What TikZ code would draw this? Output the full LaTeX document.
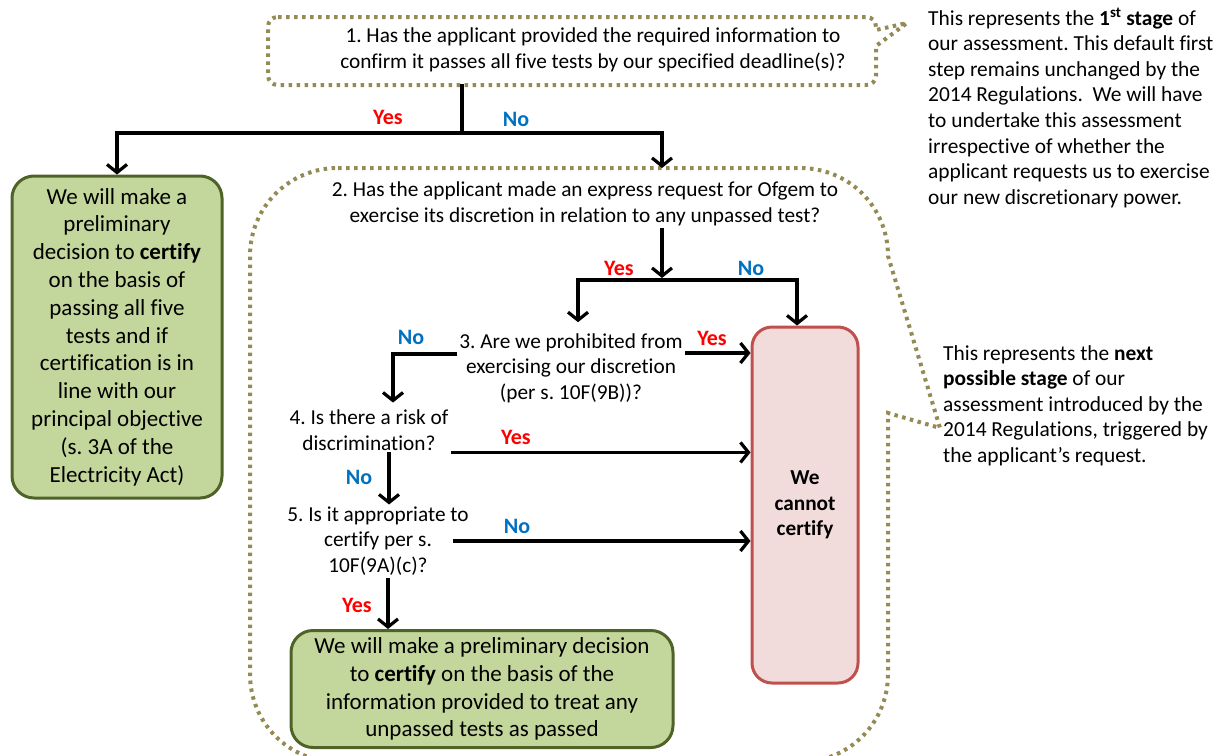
\documentclass[tikz,border=0pt]{standalone}
\usepackage{fontspec}
\setmainfont{Carlito}[Ligatures={NoCommon}]
\usetikzlibrary{positioning,arrows.meta}
\definecolor{dotcol}{RGB}{148,138,84}
\definecolor{greenfill}{RGB}{195,214,155}
\definecolor{greenedge}{RGB}{79,98,40}
\definecolor{redfill}{RGB}{242,220,219}
\definecolor{rededge}{RGB}{192,80,77}
\definecolor{yescol}{RGB}{255,0,0}
\definecolor{nocol}{RGB}{0,112,192}
\frenchspacing

\begin{document}
\begin{tikzpicture}[x=1pt, y=-1pt,
    every node/.style={font=\fontsize{21.3}{25.5}\selectfont, align=center, inner sep=2pt},
    line/.style={line width=3.2pt},
    arr/.style={line width=3.2pt, -{Straight Barb[length=8pt,width=20pt,line width=3.2pt]}},
    bubble/.style={draw=dotcol, line width=4pt, dash pattern=on 3.5pt off 4.5pt},
    greenbox/.style={draw=greenedge, fill=greenfill, line width=3pt, rounded corners=22pt,
        font=\fontsize{23}{27.8}\selectfont},
    redbox/.style={draw=rededge, fill=redfill, line width=3pt, rounded corners=20pt,
        font=\fontsize{21.3}{25.5}\selectfont\bfseries},
    note/.style={anchor=north west, align=left, inner sep=0, font=\fontsize{21.4}{25.6}\selectfont},
    yes/.style={text=yescol, font=\fontsize{22}{25.5}\selectfont\bfseries},
    no/.style={text=nocol, font=\fontsize{22}{25.5}\selectfont\bfseries}]
                \useasboundingbox (0,0) rectangle (1220,755);

                \draw[bubble] (278,17) -- (866,17) .. controls (872,17) and (876,21) .. (876,27)
                    -- (876,30) -- (907,23) -- (876,46) -- (876,75)
                    .. controls (876,81) and (872,85) .. (866,85) -- (278,85)
                    .. controls (272,85) and (268,81) .. (268,75) -- (268,27)
                    .. controls (268,21) and (272,17) .. (278,17) -- cycle;
                \draw[bubble] (338,168) -- (800,168) .. controls (849,168) and (888,207) .. (888,256)
                    -- (940,428) -- (888,413) -- (888,674)
                    .. controls (888,723) and (849,762) .. (800,762) -- (338,762)
                    .. controls (289,762) and (250,723) .. (250,674) -- (250,256)
                    .. controls (250,207) and (289,168) .. (338,168) -- cycle;

                \node (q1) at (593,50) {1. Has the applicant provided the required information to\\
                    confirm it passes all five tests by our specified deadline(s)?};
                \node[greenbox, minimum width=210, minimum height=322] (g1) at (117,337)
                    {We will make a\\ preliminary\\ decision to \textbf{certify}\\ on the basis of\\
                    passing all five\\ tests and if\\ certification is in\\ line with our\\
                    principal objective\\ (s. 3A of the\\ Electricity Act)};
                \node (q2) at (585,204) {2. Has the applicant made an express request for Ofgem to\\
                    exercise its discretion in relation to any unpassed test?};
                \node[redbox, minimum width=106, minimum height=356] (r) at (805,505)
                    {We\\ cannot\\ certify};
                \node (q3) at (571,368) {3. Are we prohibited from\\ exercising our discretion\\ (per s. 10F(9B))?};
                \node (q4) at (369,430) {4. Is there a risk of\\ discrimination?};
                \node (q5) at (378,541) {5. Is it appropriate to\\ certify per s.\\ 10F(9A)(c)?};
                \node[greenbox, minimum width=382, minimum height=117] (g2) at (482,689)
                    {We will make a preliminary decision\\ to \textbf{certify} on the basis of the\\
                    information provided to treat any\\ unpassed tests as passed};

                \node[note] (n1) at (928,8)
                    {This represents the \textbf{1\textsuperscript{st} stage} of\\ our assessment. This default first\\
                    step remains unchanged by the\\ 2014 Regulations.\ \ We will have\\ to undertake this assessment\\
                    irrespective of whether the\\ applicant requests us to exercise\\ our new discretionary power.};
                \node[note] (n2) at (943,345)
                    {This represents the \textbf{next}\\ \textbf{possible stage} of our\\ assessment introduced by the\\
                    2014 Regulations, triggered by\\ the applicant’s request.};

                \coordinate (s1) at (462,133);
                \coordinate (b2) at (662,168);
                \coordinate (s2) at (662,280);
                \coordinate (j3) at (393,354);
                \coordinate (c4) at (389,453);
                \coordinate (c5) at (388,541);

                \draw[line] (q1.south -| s1) ++(0,10) -- (s1);
                \draw[arr] (s1) -| (g1.north);
                \draw[arr] (s1) -| (b2);
                \draw[arr] (q2.south -| s2) -- ([yshift=2pt]s2);
                \draw[arr] (s2) -| ([xshift=7pt,yshift=9pt]q3.north);
                \draw[arr] (s2) -| ([xshift=-8pt]r.north);
                \draw[arr] ([yshift=15pt]q3.east) -- ([yshift=15pt]q3.east -| r.west);
                \draw[arr] ([yshift=14pt]q3.west) -| ([yshift=5pt]q4.north -| j3);
                \draw[arr] (q4.south east) -- (q4.south east -| r.west);
                \draw[arr] (q4.south -| c4) -- (q5.north -| c4);
                \draw[arr] ([xshift=-18pt]q5.east) -- (q5.east -| r.west);
                \draw[arr] (q5.south -| c5) -- (g2.north -| c5);

                \node[yes] (y1) at (388,117) {Yes};
                \node[no] (o1) at (516,119) {No};
                \node[yes] (y2) at (619,268) {Yes};
                \node[no] (o2) at (751,268) {No};
                \node[yes] (y3) at (712,338) {Yes};
                \node[no] (o3) at (411,337) {No};
                \node[yes] (y4) at (516,437) {Yes};
                \node[no] (o4) at (359,477) {No};
                \node[no] (o5) at (517,526) {No};
                \node[yes] (y5) at (357,605) {Yes};
            \end{tikzpicture}
\end{document}
